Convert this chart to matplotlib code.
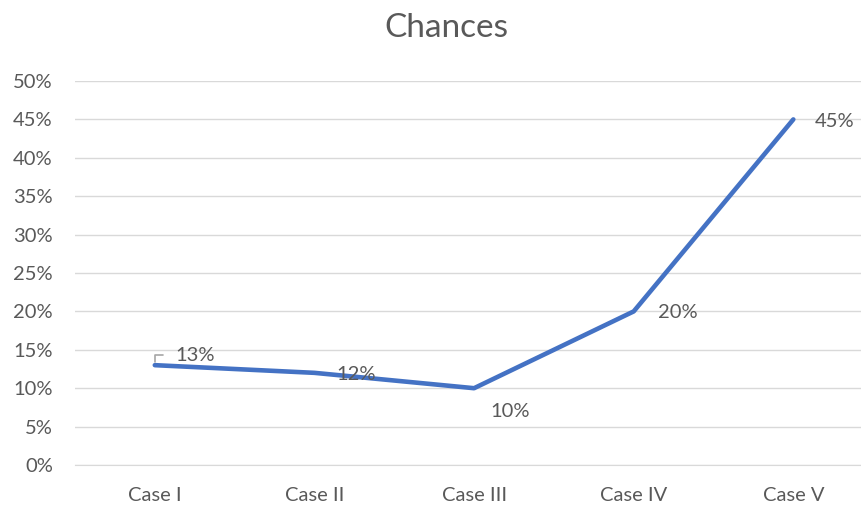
import matplotlib.pyplot as plt
from matplotlib.ticker import PercentFormatter

cases = ["Case I", "Case II", "Case III", "Case IV", "Case V"]
chances = [0.13, 0.12, 0.10, 0.20, 0.45]
# label offsets (points) from each point, as in the original
label_offsets = [(29, 7), (30, -1.5), (26, -17), (32, -1), (30, -1.5)]

grey = "#595959"
plt.rcParams["font.family"] = ["Lato", "DejaVu Sans"]

fig = plt.figure(figsize=(8.61, 5.05), dpi=100)
ax = fig.add_axes([0.0871, 0.0792, 0.927, 0.7604])

x = range(len(cases))
ax.plot(x, chances, color="#4472C4", linewidth=3.3, solid_capstyle="round",
        solid_joinstyle="round", zorder=3)

for i, (v, off) in enumerate(zip(chances, label_offsets)):
    if i == 0:
        # label with a small leader line
        ax.annotate(f"{v:.0%}", (i, v), xytext=off, textcoords="offset points",
                    ha="center", va="center", fontsize=14.5, color=grey,
                    arrowprops=dict(arrowstyle="-", color="#A6A6A6", lw=1.2,
                                    shrinkA=7, shrinkB=2,
                                    connectionstyle="angle,angleA=0,angleB=90,rad=0"))
    else:
        ax.annotate(f"{v:.0%}", (i, v), xytext=off, textcoords="offset points",
                    ha="center", va="center", fontsize=14.5, color=grey)

ax.set_xlim(-0.5, len(cases) - 0.5)
ax.set_ylim(0, 0.5)
ax.set_yticks([i * 0.05 for i in range(11)])
ax.yaxis.set_major_formatter(PercentFormatter(1.0, decimals=0))
ax.set_xticks(list(x))
ax.set_xticklabels(cases)
ax.tick_params(length=0, labelsize=14.5, labelcolor=grey)
ax.tick_params(axis="x", pad=15.5)
ax.tick_params(axis="y", pad=16)
ax.grid(axis="y", color="#D9D9D9", linewidth=1)
ax.set_axisbelow(True)
for s in ["top", "right", "left"]:
    ax.spines[s].set_visible(False)
ax.spines["bottom"].set_color("#D9D9D9")

fig.text(0.519, 0.945, "Chances", ha="center", va="center", fontsize=24, color=grey)

fig.savefig("out.png", dpi=100)
